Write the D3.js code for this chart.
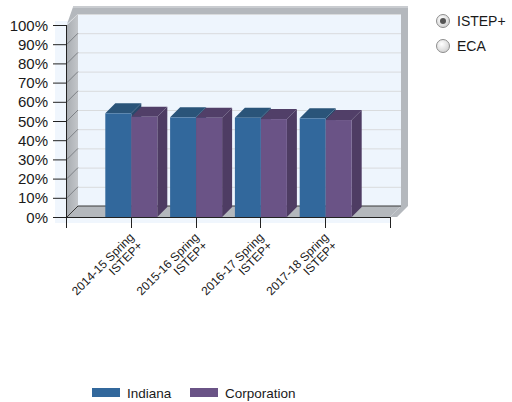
<!DOCTYPE html>
<html><head><meta charset="utf-8">
<script src="https://cdn.jsdelivr.net/npm/d3@7"></script>
<style>body{margin:0;background:#fff}svg{display:block}</style>
</head><body>
<svg id="c" width="512" height="402"></svg>
<script>
const categories = ["2014-15 Spring|ISTEP+","2015-16 Spring|ISTEP+","2016-17 Spring|ISTEP+","2017-18 Spring|ISTEP+"];
const indiana = [54.0, 51.9, 51.7, 51.4];
const corporation = [52.2, 51.7, 51.0, 50.5];
const yTicks = [0,10,20,30,40,50,60,70,80,90,100];
const seriesNames = ["Indiana","Corporation"];
const radioLabels = ["ISTEP+","ECA"];

const svg = d3.select("#c");
const defs = svg.append("defs");
const F = "'Liberation Sans', Arial, sans-serif";

const x0 = 67, x1 = 390, yTop = 25, yBot = 217;
const dx = 11, dy = -11;   // wall depth
const bdx = 10, bdy = -10; // bar depth
const bw = 26;

const y = d3.scaleLinear().domain([0,100]).range([yBot, yTop]);
const x = d3.scalePoint().domain(categories).range([x0 - 1, x1]).padding(1);

// gradients
const g1 = defs.append("linearGradient").attr("id","side").attr("x1",0).attr("x2",1).attr("y1",0).attr("y2",0);
g1.append("stop").attr("offset","0%").attr("stop-color","#a9adb2");
g1.append("stop").attr("offset","100%").attr("stop-color","#c3c6ca");
const rg = defs.append("radialGradient").attr("id","rad").attr("cx","40%").attr("cy","35%").attr("r","70%");
rg.append("stop").attr("offset","0%").attr("stop-color","#ffffff");
rg.append("stop").attr("offset","100%").attr("stop-color","#cfcfcf");

// plot background
svg.append("rect").attr("x",55).attr("y",21).attr("width",x1-55).attr("height",202).attr("fill","#f0f6fd");

// back wall
svg.append("rect").attr("x",x0+dx).attr("y",yTop+dy).attr("width",x1-x0).attr("height",yBot-yTop)
  .attr("fill","#eef5fd");
// back wall gridlines
svg.append("g").selectAll("line").data(yTicks.filter(d=>d>0)).join("line")
  .attr("x1",x0+dx).attr("x2",x1+dx).attr("y1",d=>y(d)+dy+0.5).attr("y2",d=>y(d)+dy+0.5)
  .attr("stroke","#d9dbdd").attr("stroke-width",1);

// frame (top and right thickness)
const fr = [[x0,yTop-1],[x0+6,7],[x1+dx+7,7],[x1+dx+7,yBot+dy],[x1+7,yBot],[x1,yBot],[x1+dx,yBot+dy],[x1+dx,yTop+dy],[x0+dx,yTop+dy]];
svg.append("path").attr("d", d3.line()(fr)+"Z").attr("fill","#b4b8bd");
svg.append("path").attr("d", d3.line()([[x0+6,7],[x1+dx+7,7]])).attr("stroke","#c9ccd0").attr("stroke-width",2);

// left side wall
const lw = [[x0,yTop],[x0+dx,yTop+dy],[x0+dx,yBot+dy],[x0,yBot]];
svg.append("path").attr("d", d3.line()(lw)+"Z").attr("fill","url(#side)");
svg.append("g").selectAll("line").data(yTicks.filter(d=>d>0 && d<100)).join("line")
  .attr("x1",x0).attr("x2",x0+dx).attr("y1",d=>y(d)).attr("y2",d=>y(d)+dy)
  .attr("stroke","#7d8186").attr("stroke-width",1);

// floor
const fl = [[x0,yBot],[x0+dx,yBot+dy],[x1+dx,yBot+dy],[x1,yBot]];
svg.append("path").attr("d", d3.line()(fl)+"Z").attr("fill","#b4b8bd");
svg.append("path").attr("d", d3.line()([[x0,yBot],[x0+dx,yBot+dy],[x1+dx,yBot+dy]])).attr("fill","none").attr("stroke","#3a3a3a").attr("stroke-width",1);

// bars
const colors = {
  Indiana: {front:"#32689c", top:"#2a5479", side:"#27496c"},
  Corporation: {front:"#6a5386", top:"#513f68", side:"#4e3c63"}
};
const barData = [];
categories.forEach((c,i)=>{
  barData.push({cat:c, s:"Indiana", v:indiana[i], xl:x(c)-bw+0.5});
  barData.push({cat:c, s:"Corporation", v:corporation[i], xl:x(c)+0.5});
});
const bars = svg.append("g").selectAll("g").data(barData).join("g");
bars.append("path").attr("d", d=>{
  const xr = d.xl+bw, yt = y(d.v);
  return d3.line()([[xr,yt],[xr+bdx,yt+bdy],[xr+bdx,yBot+bdy],[xr,yBot]])+"Z";
}).attr("fill", d=>colors[d.s].side);
bars.append("path").attr("d", d=>{
  const xr = d.xl+bw, yt = y(d.v);
  return d3.line()([[d.xl,yt],[d.xl+bdx,yt+bdy],[xr+bdx,yt+bdy],[xr,yt]])+"Z";
}).attr("fill", d=>colors[d.s].top);
bars.append("rect").attr("x",d=>d.xl).attr("y",d=>y(d.v)).attr("width",bw).attr("height",d=>yBot-y(d.v))
  .attr("fill", d=>colors[d.s].front);

// y axis
const ya = svg.append("g");
ya.append("line").attr("x1",x0-0.5).attr("x2",x0-0.5).attr("y1",yTop).attr("y2",yBot).attr("stroke","#222");
ya.selectAll("line.t").data(yTicks).join("line").attr("class","t")
  .attr("x1",53).attr("x2",x0).attr("y1",d=>y(d)+0.5).attr("y2",d=>y(d)+0.5).attr("stroke","#222");
ya.selectAll("text").data(yTicks).join("text")
  .attr("x",48).attr("y",d=>y(d)+5.5).attr("text-anchor","end")
  .attr("font-family",F).attr("font-size",15).attr("fill","#1a1a1a")
  .text(d=>d+"%");

// x axis
const xa = svg.append("g");
xa.append("line").attr("x1",53).attr("x2",x1).attr("y1",yBot+0.5).attr("y2",yBot+0.5).attr("stroke","#222");
const xt = [x0-1, ...categories.map(c=>x(c)), x1];
xa.selectAll("line.t").data(xt).join("line").attr("class","t")
  .attr("x1",d=>Math.round(d)+0.5).attr("x2",d=>Math.round(d)+0.5).attr("y1",yBot).attr("y2",228).attr("stroke","#222");
const lab = xa.selectAll("g.l").data(categories).join("g").attr("class","l")
  .attr("transform", d=>`translate(${x(d)+4},238) rotate(-45)`);
lab.selectAll("text").data(d=>d.split("|").map((t,i)=>({t,i}))).join("text")
  .attr("x",0).attr("y",d=>d.i*12).attr("text-anchor","end")
  .attr("font-family",F).attr("font-size",12).attr("fill","#1a1a1a")
  .text(d=>d.t);

// legend
const leg = svg.append("g");
const legX = [92, 190];
seriesNames.forEach((s,i)=>{
  leg.append("rect").attr("x",legX[i]).attr("y",388).attr("width",28).attr("height",9)
    .attr("fill", colors[s].front);
  leg.append("text").attr("x",legX[i]+35).attr("y",397.5)
    .attr("font-family",F).attr("font-size",13.5).attr("fill","#1a1a1a").text(s);
});

// radio buttons
const rad = svg.append("g");
radioLabels.forEach((t,i)=>{
  const cy = 21 + i*25;
  rad.append("circle").attr("cx",443).attr("cy",cy).attr("r",6.5)
    .attr("fill","url(#rad)").attr("stroke","#8e8e8e");
  if(i===0) rad.append("circle").attr("cx",443).attr("cy",cy).attr("r",3).attr("fill","#555");
  rad.append("text").attr("x",457).attr("y",cy+5).attr("font-family",F).attr("font-size",14)
    .attr("fill","#1a1a1a").text(t);
});
</script>
</body></html>
